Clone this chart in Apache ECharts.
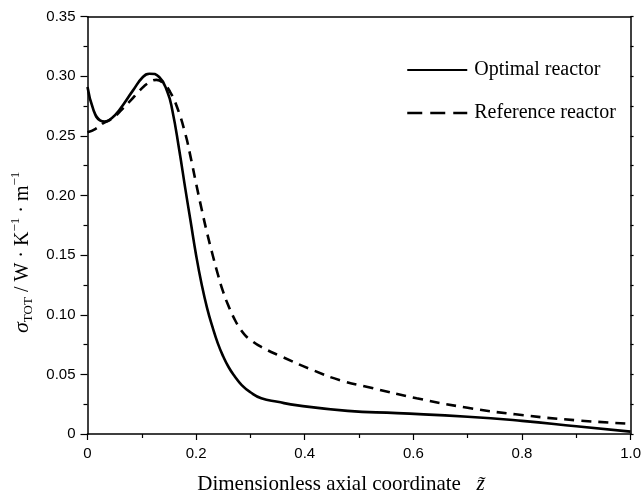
<!DOCTYPE html>
<html>
<head>
<meta charset="utf-8">
<script src="https://cdn.jsdelivr.net/npm/echarts@6/dist/echarts.min.js"></script>
<style>html,body{margin:0;padding:0;background:#fff;}#c{width:644px;height:500px;}</style>
</head>
<body>
<div id="c"></div>
<script>
// Optimal reactor (solid)
var optZ = [0, 0.011, 0.023, 0.032, 0.045, 0.059, 0.0835, 0.102, 0.114, 0.132, 0.147, 0.156, 0.169, 0.18, 0.19, 0.2, 0.21, 0.22, 0.23, 0.24, 0.25, 0.26, 0.27, 0.284, 0.3, 0.32, 0.35, 0.387, 0.479, 0.57, 0.7, 0.8, 0.9, 1.0];
var optV = [0.291, 0.2717, 0.263, 0.262, 0.265, 0.272, 0.288, 0.2994, 0.3022, 0.2994, 0.287, 0.272, 0.238, 0.206, 0.178, 0.150, 0.126, 0.106, 0.090, 0.076, 0.065, 0.056, 0.049, 0.041, 0.035, 0.030, 0.027, 0.024, 0.0194, 0.0175, 0.0145, 0.011, 0.0065, 0.002];
// Reference reactor (dashed)
var refZ = [0, 0.015, 0.03, 0.047, 0.065, 0.08, 0.096, 0.114, 0.127, 0.14, 0.152, 0.165, 0.18, 0.19, 0.2, 0.21, 0.22, 0.23, 0.24, 0.25, 0.26, 0.27, 0.28, 0.29, 0.3, 0.32, 0.357, 0.418, 0.466, 0.52, 0.606, 0.7, 0.788, 0.9, 1.0];
var refV = [0.253, 0.256, 0.261, 0.265, 0.273, 0.28, 0.288, 0.295, 0.297, 0.294, 0.287, 0.274, 0.252, 0.232, 0.210, 0.189, 0.169, 0.151, 0.134, 0.119, 0.107, 0.097, 0.089, 0.083, 0.079, 0.073, 0.065, 0.053, 0.045, 0.039, 0.030, 0.022, 0.0165, 0.0115, 0.0086];
var seriesNames = ['Optimal reactor', 'Reference reactor'];
var xTitle = 'Dimensionless axial coordinate';

function pairs(xs, ys) { return xs.map(function (x, i) { return [x, ys[i]]; }); }

var chart = echarts.init(document.getElementById('c'));
var serif = '"Liberation Serif", "Times New Roman", serif';
var sans = '"Liberation Sans", Arial, sans-serif';
chart.setOption({
  animation: false,
  backgroundColor: '#fff',
  color: ['#000', '#000'],
  grid: { left: 87.5, right: 8, top: 16.7, bottom: 64, containLabel: false },
  legend: {
    orient: 'vertical', left: 401, top: 55,
    itemWidth: 60, itemHeight: 20, itemGap: 23,
    itemStyle: { opacity: 0 },
    textStyle: { fontFamily: serif, fontSize: 20, color: '#000', padding: [0, 0, 0, 2] },
    data: [
      { name: seriesNames[0], itemStyle: { opacity: 0 }, lineStyle: { color: '#000', width: 1.8, type: 'solid' } },
      { name: seriesNames[1], itemStyle: { opacity: 0 }, lineStyle: { color: '#000', width: 2.5, type: [15, 8] } }
    ]
  },
  xAxis: [{
    type: 'value', min: 0, max: 1, interval: 0.2, position: 'bottom',
    name: '{t|' + xTitle + '   }{z|z\u0303}',
    nameLocation: 'middle', nameGap: 40,
    nameTextStyle: { padding: [0, 36, 0, 0], rich: {
      t: { fontFamily: serif, fontSize: 21, color: '#000' },
      z: { fontFamily: serif, fontSize: 21, fontStyle: 'italic', color: '#000' }
    } },
    axisLine: { show: true, onZero: false, lineStyle: { color: '#000', width: 1.5 } },
    axisTick: { show: true, inside: false, length: 6, lineStyle: { color: '#000', width: 1.2 } },
    minorTick: { show: true, splitNumber: 2, length: 4, lineStyle: { color: '#000', width: 1.2 } },
    axisLabel: { margin: 12, fontFamily: sans, fontSize: 15, color: '#000',
      formatter: function (v) { return v === 0 ? '0' : v.toFixed(1); } },
    splitLine: { show: false }
  }, {
    type: 'value', min: 0, max: 1, interval: 0.2, position: 'top',
    axisLine: { show: true, onZero: false, lineStyle: { color: '#000', width: 1.5 } },
    axisTick: { show: false }, axisLabel: { show: false }, splitLine: { show: false }
  }],
  yAxis: [{
    type: 'value', min: 0, max: 0.35, interval: 0.05, position: 'left',
    name: '{s|σ}{sub|TOT}{t| / W · K}{sup|−1}{t| · m}{sup|−1}',
    nameLocation: 'middle', nameGap: 50, nameRotate: 90,
    nameTextStyle: { padding: [0, 54, 0, 0], rich: {
      s: { fontFamily: serif, fontSize: 22, fontStyle: 'italic', color: '#000', lineHeight: 26, verticalAlign: 'middle' },
      sub: { fontFamily: serif, fontSize: 13, color: '#000', lineHeight: 26, verticalAlign: 'bottom' },
      t: { fontFamily: serif, fontSize: 20, color: '#000', lineHeight: 26, verticalAlign: 'middle' },
      sup: { fontFamily: serif, fontSize: 13, color: '#000', lineHeight: 26, verticalAlign: 'top' }
    } },
    axisLine: { show: true, onZero: false, lineStyle: { color: '#000', width: 1.5 } },
    axisTick: { show: true, inside: false, length: 7, lineStyle: { color: '#000', width: 1.2 } },
    minorTick: { show: true, splitNumber: 2, length: 4, lineStyle: { color: '#000', width: 1.2 } },
    axisLabel: { margin: 12, fontFamily: sans, fontSize: 15, color: '#000',
      formatter: function (v) { return v === 0 ? '0' : v.toFixed(2); } },
    splitLine: { show: false }
  }, {
    type: 'value', min: 0, max: 0.35, interval: 0.05, position: 'right',
    axisLine: { show: true, onZero: false, lineStyle: { color: '#000', width: 1.5 } },
    axisTick: { show: true, inside: false, length: 3, lineStyle: { color: '#000', width: 1.2 } },
    minorTick: { show: true, splitNumber: 2, length: 3, lineStyle: { color: '#000', width: 1.2 } },
    axisLabel: { show: false }, splitLine: { show: false }
  }],
  series: [{
    name: seriesNames[0], type: 'line', xAxisIndex: 0, yAxisIndex: 0,
    data: pairs(optZ, optV), smooth: 0.5, symbol: 'none',
    itemStyle: { color: '#000' },
    lineStyle: { color: '#000', width: 2.6, type: 'solid' }
  }, {
    name: seriesNames[1], type: 'line', xAxisIndex: 0, yAxisIndex: 0,
    data: pairs(refZ, refV), smooth: 0.5, symbol: 'none',
    itemStyle: { color: '#000' },
    lineStyle: { color: '#000', width: 2.6, type: [10, 7] }
  }]
});
</script>
</body>
</html>
